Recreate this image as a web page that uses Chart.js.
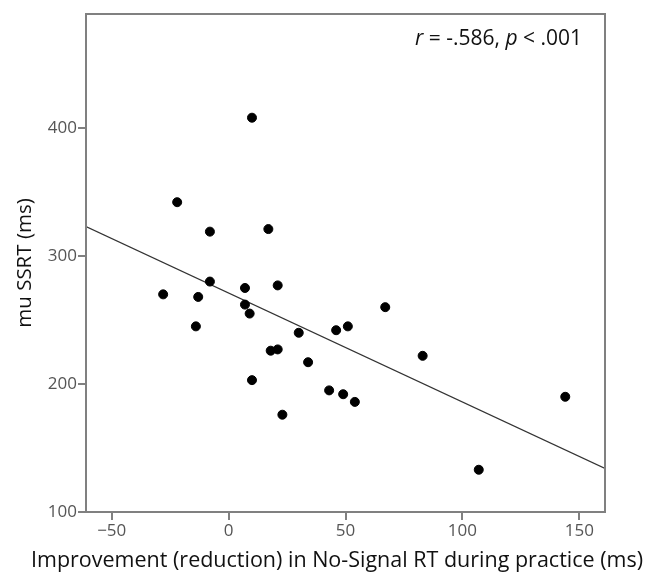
<!DOCTYPE html>
<html>
<head>
<meta charset="utf-8">
<script src="https://cdn.jsdelivr.net/npm/chart.js@4.4.1/dist/chart.umd.min.js"></script>
<style>
  html, body { margin: 0; padding: 0; background: #fff; }
  #wrap { width: 656px; height: 577px; }
</style>
</head>
<body>
<div id="wrap"><canvas id="chart" width="656" height="577"></canvas></div>
<script>
// practice improvement (ms) vs mu SSRT (ms)
const improvement = [10, -22, -8, 17, -8, 7, 21, -28, -13, -14, 7, 9, 30, 18, 21, 34, 10, 23, 43, 67, 46, 51, 83, 49, 54, 144, 107];
const muSSRT = [408, 342, 319, 321, 280, 275, 277, 270, 268, 245, 262, 255, 240, 226, 227, 217, 203, 176, 195, 260, 242, 245, 222, 192, 186, 190, 133];

// fit line endpoints at the plot edges
const fitX = [-61, 161];
const fitY = [323, 134];

const xTicks = [-50, 0, 50, 100, 150];
const yTicks = [100, 200, 300, 400];
const statText = ['r', ' = -.586, ', 'p', ' < .001'];
const xTitle = 'Improvement (reduction) in No-Signal RT during practice (ms)';

const FONT = "'Open Sans', sans-serif";

const points = improvement.map((x, i) => ({ x: x, y: muSSRT[i] }));
const fitLine = fitX.map((x, i) => ({ x: x, y: fitY[i] }));

const frame = {
  id: 'frame',
  afterDraw(chart) {
    const { ctx, chartArea: a } = chart;
    ctx.save();
    ctx.strokeStyle = '#808080';
    ctx.lineWidth = 2;
    ctx.beginPath();
    ctx.moveTo(a.left, a.bottom);
    ctx.lineTo(a.left, a.top);
    ctx.lineTo(a.right, a.top);
    ctx.lineTo(a.right, a.bottom);
    ctx.stroke();

    // stats label, r and p in italics, right aligned
    ctx.fillStyle = '#111';
    ctx.textBaseline = 'middle';
    const parts = statText.map((t, i) => ({ t, font: (i % 2 === 0 ? 'italic ' : '') + '21px ' + FONT }));
    let total = 0;
    parts.forEach(p => { ctx.font = p.font; p.w = ctx.measureText(p.t).width; total += p.w; });
    let x = a.right - 23 - total;
    parts.forEach(p => { ctx.font = p.font; ctx.fillText(p.t, x, a.top + 25); x += p.w; });

    // x axis title, wider than the plot so drawn here
    ctx.font = '21.5px ' + FONT;
    ctx.textAlign = 'center';
    ctx.fillText(xTitle, 337, 561);
    ctx.restore();
  }
};

new Chart(document.getElementById('chart'), {
  type: 'scatter',
  data: {
    datasets: [
      {
        data: points,
        backgroundColor: '#000',
        borderColor: '#000',
        pointRadius: 4.5,
        pointHoverRadius: 4.5
      },
      {
        type: 'line',
        data: fitLine,
        borderColor: '#333',
        borderWidth: 1.2,
        pointRadius: 0,
        fill: false
      }
    ]
  },
  options: {
    responsive: false,
    animation: false,
    layout: { padding: { top: 14, right: 51, left: 0, bottom: 0 } },
    plugins: { legend: { display: false }, tooltip: { enabled: false } },
    scales: {
      x: {
        type: 'linear',
        min: -61,
        max: 161,
        afterBuildTicks: s => { s.ticks = xTicks.map(v => ({ value: v })); },
        afterFit: s => { s.height = 65; },
        ticks: {
          color: '#555',
          font: { family: FONT, size: 17 },
          padding: 1,
          callback: v => String(v).replace('-', '\u2212')
        },
        grid: { drawOnChartArea: false, color: '#808080', tickLength: 8, lineWidth: 2 },
        border: { color: '#808080', width: 2 },
        title: { display: false }
      },
      y: {
        type: 'linear',
        min: 100,
        max: 489,
        afterBuildTicks: s => { s.ticks = yTicks.map(v => ({ value: v })); },
        afterFit: s => { s.width = 86; },
        ticks: {
          color: '#555',
          font: { family: FONT, size: 17 },
          padding: 1
        },
        grid: { drawOnChartArea: false, color: '#808080', tickLength: 8, lineWidth: 2 },
        border: { color: '#808080', width: 2 },
        title: {
          display: true,
          text: 'mu SSRT (ms)',
          color: '#111',
          font: { family: FONT, size: 20.5 },
          padding: { top: 13, bottom: 0 }
        }
      }
    }
  },
  plugins: [frame]
});
</script>
</body>
</html>
